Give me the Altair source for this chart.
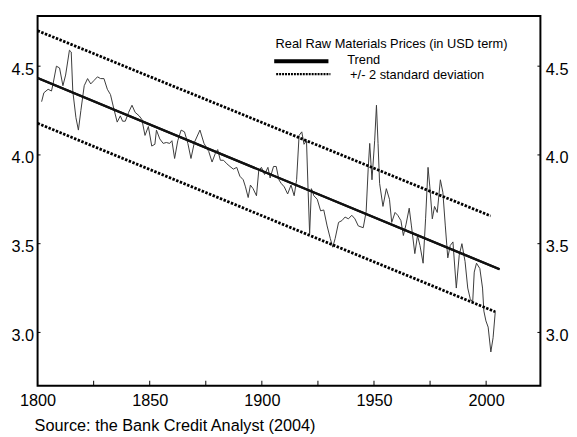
import altair as alt
import pandas as pd

# ---- data ----
years = [1801.8, 1802.8, 1804.7, 1806.2, 1806.9, 1808.4, 1809.8, 1811.3, 1812.5, 1814.2,
         1815.0, 1815.7, 1817.1, 1818.2, 1819.3, 1820.8, 1822.3, 1823.7, 1825.2, 1826.7,
         1828.1, 1829.6, 1831.1, 1832.5, 1834.0, 1835.5, 1836.9, 1837.9, 1839.1, 1840.6,
         1842.1, 1843.5, 1845.3, 1846.5, 1847.9, 1849.4, 1850.9, 1852.3, 1853.0, 1854.5,
         1856.0, 1857.4, 1858.9, 1859.9, 1861.1, 1862.5, 1864.0, 1865.5, 1867.0, 1868.4,
         1869.9, 1872.4, 1874.2, 1876.3, 1877.8, 1879.3, 1880.3, 1881.5, 1882.9, 1884.4,
         1885.8, 1887.3, 1888.8, 1890.2, 1891.7, 1892.7, 1893.9, 1894.9, 1896.1, 1897.6,
         1898.6, 1899.8, 1901.2, 1902.7, 1903.7, 1905.2, 1906.4, 1907.6, 1908.6, 1910.0,
         1911.5, 1913.0, 1914.4, 1915.5, 1916.6, 1917.8, 1918.8, 1919.9, 1920.6, 1921.3,
         1922.1, 1923.2, 1924.7, 1926.2, 1927.6, 1929.1, 1930.5, 1931.6, 1932.7, 1934.2,
         1935.7, 1937.1, 1938.6, 1940.1, 1941.5, 1943.0, 1945.2, 1946.5, 1947.4, 1948.1,
         1949.1, 1950.3, 1951.1, 1951.8, 1952.5, 1954.0, 1955.5, 1956.9, 1957.9, 1959.4,
         1960.6, 1962.0, 1963.1, 1964.3, 1965.7, 1966.7, 1968.2, 1969.4, 1970.5, 1971.9,
         1973.0, 1974.1, 1974.9, 1976.0, 1977.0, 1978.2, 1979.6, 1980.7, 1981.8, 1982.9,
         1984.0, 1985.2, 1986.7, 1988.0, 1989.2, 1990.6, 1991.8, 1992.9, 1994.0, 1994.7,
         1995.7, 1997.2, 1998.4, 1999.0, 1999.9, 2000.9, 2002.1, 2003.1, 2004.1]
prices = [4.30, 4.35, 4.37, 4.36, 4.40, 4.50, 4.49, 4.39, 4.45, 4.59,
          4.58, 4.36, 4.21, 4.14, 4.25, 4.39, 4.43, 4.40, 4.42, 4.44,
          4.43, 4.43, 4.37, 4.34, 4.26, 4.185, 4.22, 4.19, 4.19, 4.24,
          4.28, 4.24, 4.22, 4.20, 4.11, 4.16, 4.05, 4.06, 4.14, 4.09,
          4.065, 4.07, 4.065, 4.08, 3.98, 4.08, 4.14, 4.13, 4.065, 3.98,
          4.07, 4.14, 4.065, 4.02, 3.96, 4.01, 4.03, 3.97, 3.97, 3.95,
          3.935, 3.92, 3.93, 3.88, 3.86, 3.82, 3.76, 3.83, 3.81, 3.77,
          3.91, 3.93, 3.89, 3.93, 3.87, 3.935, 3.935, 3.86, 3.84, 3.82,
          3.78, 3.83, 3.77, 3.86, 4.11, 4.13, 4.06, 4.08, 3.81, 3.556,
          3.81, 3.77, 3.75, 3.685, 3.69, 3.60, 3.53, 3.48, 3.53, 3.62,
          3.63, 3.65, 3.64, 3.66, 3.64, 3.60, 3.59, 3.68, 3.92, 4.065,
          3.86, 4.08, 4.28, 4.065, 3.84, 3.71, 3.81, 3.75, 3.62, 3.676,
          3.66, 3.63, 3.546, 3.61, 3.70, 3.60, 3.444, 3.546, 3.49, 3.39,
          3.64, 3.93, 3.82, 3.64, 3.71, 3.676, 3.86, 3.79, 3.60, 3.42,
          3.49, 3.51, 3.25, 3.435, 3.50, 3.40, 3.25, 3.19, 3.17, 3.34,
          3.39, 3.36, 3.25, 3.12, 3.065, 3.03, 2.89, 2.97, 3.12]

trend_years = [1800, 2006]
trend_vals = [4.433, 3.356]
upper_years = [1800, 2002]
upper_vals = [4.70, 3.656]
lower_years = [1800, 2004]
lower_vals = [4.178, 3.117]

x_tick_labels = [1800, 1850, 1900, 1950, 2000]
x_tick_marks = [1800, 1825, 1850, 1875, 1900, 1925, 1950, 1975, 2000]
y_tick_labels = [3.0, 3.5, 4.0, 4.5]

legend_title = ["Real Raw Materials Prices (in USD term)"]
legend_trend = ["Trend"]
legend_sd = ["+/- 2 standard deviation"]
source_text = ["Source: the Bank Credit Analyst (2004)"]

# ---- build ----
FONT = "Liberation Sans"
W, H = 510, 375

df_series = pd.DataFrame({"year": years, "value": prices})
df_trend = pd.DataFrame({"year": trend_years, "value": trend_vals})
df_upper = pd.DataFrame({"year": upper_years, "value": upper_vals})
df_lower = pd.DataFrame({"year": lower_years, "value": lower_vals})

x_scale = alt.Scale(domain=[1800, 2024.2], nice=False, zero=False)
y_scale = alt.Scale(domain=[2.70, 4.783], nice=False, zero=False)

x_axis = alt.Axis(values=x_tick_labels, format="d", title=None, tickSize=0, domain=False,
                  grid=False, labelFont=FONT, labelFontSize=16.5, labelColor="black",
                  labelPadding=7, labelFlush=False)
y_left_axis = alt.Axis(values=y_tick_labels, format=".1f", title=None, tickSize=0,
                       domain=False, grid=False, labelFont=FONT, labelFontSize=16.5,
                       labelColor="black", labelPadding=4, labelOffset=3)
y_right_axis = alt.Axis(values=y_tick_labels, format=".1f", title=None, tickSize=0,
                        domain=False, grid=False, labelFont=FONT, labelFontSize=16.5,
                        labelColor="black", labelPadding=5, labelOffset=3, orient="right")

X = alt.X("year:Q", scale=x_scale, axis=x_axis)

series = alt.Chart(df_series).mark_line(color="#3a3a3a", strokeWidth=1.0).encode(
    x=X, y=alt.Y("value:Q", scale=y_scale, axis=y_left_axis))
trend = alt.Chart(df_trend).mark_line(color="#111", strokeWidth=2.3).encode(
    x=X, y=alt.Y("value:Q", scale=y_scale))
upper = alt.Chart(df_upper).mark_line(color="black", strokeWidth=2.8, strokeDash=[2.5, 1.5]).encode(
    x=X, y=alt.Y("value:Q", scale=y_scale))
lower = alt.Chart(df_lower).mark_line(color="black", strokeWidth=2.8, strokeDash=[2.5, 1.5]).encode(
    x=X, y=alt.Y("value:Q", scale=y_scale))

# inward tick marks
df_yt = pd.DataFrame({"value": y_tick_labels})
df_xt = pd.DataFrame({"year": x_tick_marks})
lticks = alt.Chart(df_yt).mark_rule(color="black", strokeWidth=1).encode(
    y=alt.Y("value:Q", scale=y_scale), x=alt.value(0), x2=alt.value(3))
rticks = alt.Chart(df_yt).mark_rule(color="black", strokeWidth=1).encode(
    y=alt.Y("value:Q", scale=y_scale), x=alt.value(W - 3), x2=alt.value(W))
bticks = alt.Chart(df_xt).mark_rule(color="black", strokeWidth=1).encode(
    x=X, y=alt.value(H - 5), y2=alt.value(H))

# legend
def txt(lst, x, y, align, size=13):
    return alt.Chart(pd.DataFrame({"t": lst})).mark_text(
        font=FONT, fontSize=size, color="black", align=align, baseline="alphabetic"
    ).encode(text="t:N", x=alt.value(x), y=alt.value(y))

leg_title = txt(legend_title, 359, 32, "center")
leg_trend = txt(legend_trend, 314, 49, "left")
leg_sd = txt(legend_sd, 317, 64, "left")
leg_solid = alt.Chart(pd.DataFrame({"t": legend_trend})).mark_rule(
    color="black", strokeWidth=4).encode(x=alt.value(240), x2=alt.value(295), y=alt.value(46))
leg_dot = alt.Chart(pd.DataFrame({"t": legend_sd})).mark_rule(
    color="black", strokeWidth=2.5, strokeDash=[2, 1]).encode(x=alt.value(242), x2=alt.value(297), y=alt.value(59))
source = txt(source_text, -3, 421, "left", size=16.5)

A = alt.layer(series, trend, upper, lower, lticks, rticks, bticks,
              leg_title, leg_trend, leg_sd, leg_solid, leg_dot, source)
B = alt.Chart(df_trend).mark_line(color="#111", strokeWidth=2.3).encode(
    x=X, y=alt.Y("value:Q", scale=y_scale, axis=y_right_axis))

chart = alt.layer(A, B).resolve_scale(y="independent").properties(
    width=W, height=H,
    padding={"left": 30, "top": 5, "right": 29, "bottom": 50},
    autosize=alt.AutoSizeParams(type="none"),
    background="white",
).configure_view(stroke="black", strokeWidth=2)

chart.save("out.html", embed_options={"renderer": "svg", "actions": False})
